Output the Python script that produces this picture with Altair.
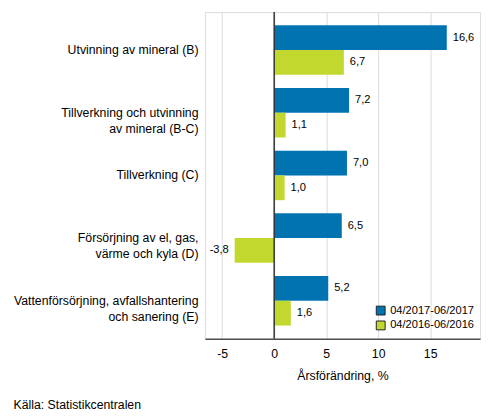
import altair as alt
import pandas as pd

categories = [
    "Utvinning av mineral (B)",
    "Tillverkning och utvinning|av mineral (B-C)",
    "Tillverkning (C)",
    "Försörjning av el, gas,|värme och kyla (D)",
    "Vattenförsörjning, avfallshantering|och sanering (E)",
]
series = ["04/2017-06/2017", "04/2016-06/2016"]
values_2017 = [16.6, 7.2, 7.0, 6.5, 5.2]
values_2016 = [6.7, 1.1, 1.0, -3.8, 1.6]
colors = ["#0073B0", "#C3D82E"]

rows = []
for c, a, b in zip(categories, values_2017, values_2016):
    rows.append({"cat": c, "series": series[0], "value": a})
    rows.append({"cat": c, "series": series[1], "value": b})
df = pd.DataFrame(rows)
df["label"] = df["value"].map(lambda v: f"{v:.1f}".replace(".", ","))

FONT = "Liberation Sans"

y_enc = alt.Y(
    "cat:N",
    sort=categories,
    title=None,
    scale=alt.Scale(paddingInner=0.21, paddingOuter=0.21),
    axis=alt.Axis(
        labelExpr="split(datum.label, '|')",
        domain=False,
        ticks=False,
        grid=False,
        labelPadding=7,
        labelFontSize=12.4,
        labelColor="#000000",
        labelFont=FONT,
        minExtent=191,
        maxExtent=191,
        labelLimit=300,
        labelLineHeight=16,
    ),
)
x_scale = alt.Scale(domain=[-6.66, 19.8], nice=False, zero=False)
x_enc = alt.X(
    "value:Q",
    scale=x_scale,
    title="Årsförändring, %",
    axis=alt.Axis(
        values=[-5, 0, 5, 10, 15],
        labelExpr="toString(datum.value)",
        grid=True,
        gridColor="#DCDCDC",
        gridWidth=1,
        ticks=False,
        domainColor="#000000",
        domainWidth=1,
        labelFontSize=12.4,
        labelColor="#000000",
        labelFont=FONT,
        labelPadding=9,
        titleFontSize=12.4,
        titleFont=FONT,
        titleFontWeight="normal",
        titleColor="#000000",
        titlePadding=10,
    ),
)
color_enc = alt.Color(
    "series:N",
    sort=series,
    scale=alt.Scale(domain=series, range=colors),
    legend=alt.Legend(
        title=None,
        orient="bottom-right",
        offset=6,
        symbolType="square",
        symbolSize=80,
        symbolStrokeColor="#222222",
        symbolStrokeWidth=1,
        labelFontSize=11.2,
        labelFont=FONT,
        labelColor="#000000",
        rowPadding=1,
        padding=0,
    ),
)
yoff = alt.YOffset("series:N", sort=series)

bars = alt.Chart(df).mark_bar().encode(
    y=y_enc, x=x_enc, yOffset=yoff, color=color_enc
)

pos_text = alt.Chart(df).transform_filter("datum.value >= 0").mark_text(
    align="left", dx=6, fontSize=11.2, font=FONT, color="#000000"
).encode(y=alt.Y("cat:N", sort=categories), x="value:Q", yOffset=yoff, text="label:N")

neg_text = alt.Chart(df).transform_filter("datum.value < 0").mark_text(
    align="right", dx=-6, fontSize=11.2, font=FONT, color="#000000"
).encode(y=alt.Y("cat:N", sort=categories), x="value:Q", yOffset=yoff, text="label:N")

zero_rule = alt.Chart(pd.DataFrame({"z": [0]})).mark_rule(
    color="#333333", strokeWidth=1.5
).encode(x=alt.X("z:Q", scale=x_scale))

chart = (
    alt.layer(bars, zero_rule, pos_text, neg_text)
    .properties(
        width=278,
        height=330,
        padding={"left": 5, "top": 1, "right": 5, "bottom": 5},
        title=alt.TitleParams(
            "Källa: Statistikcentralen",
            orient="bottom",
            anchor="start",
            frame="bounds",
            fontSize=12.4,
            font=FONT,
            fontWeight="normal",
            color="#000000",
            offset=17,
        ),
    )
    .configure_view(stroke=None)
    .configure(background="#FFFFFF")
)

chart.save("out.html", embed_options={"renderer": "svg", "actions": False})
